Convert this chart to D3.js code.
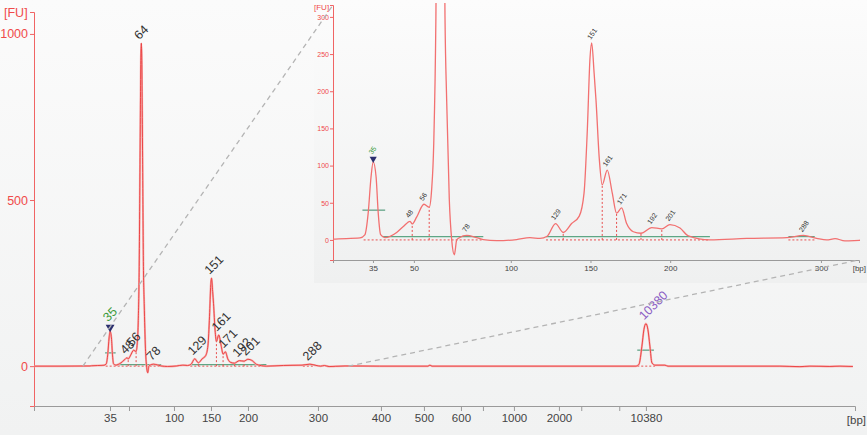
<!DOCTYPE html>
<html>
<head>
<meta charset="utf-8">
<style type="text/css">
body { margin: 0; background: #f4f5f5; }
svg { display: block; font-family: "Liberation Sans", Arial, sans-serif; }
.trace { fill: none; stroke-linejoin: round; }
.axisgray path, .axisgray line { stroke: #9a9a9a; }
.axisred path, .axisred line { stroke: #f06464; }
</style>
<script src="https://d3js.org/d3.v7.min.js"></script>
</head>
<body>
<script type="text/javascript">
var width = 867, height = 435;

// ladder: fragment size [bp] and migration time [s]
var ladderBp   = [35, 50, 100, 150, 200, 300, 400, 500, 600, 700, 1000, 2000, 3000, 7000, 10380];
var ladderTime = [44.84, 46.55, 50.6, 53.93, 57.26, 63.56, 69.23, 73.1, 76.43, 78.41, 81.2, 85.25, 87.26, 90.68, 93.08];
var mainLabelled  = [35, 100, 150, 200, 300, 400, 500, 600, 1000, 2000, 10380];
var insetLabelled = [35, 50, 100, 150, 200, 300];
var mainYTicks  = [0, 500, 1000];
var insetYTicks = [0, 50, 100, 150, 200, 250, 300];

// electropherogram trace: time [s], fluorescence [FU]
var traceT = [38.0, 40.34, 43.04, 43.16, 44.30, 44.50, 44.64, 44.76, 44.85, 44.97, 45.06, 45.16, 45.34,
  45.83, 46.11, 46.39, 46.48, 46.67, 46.97, 47.19, 47.29, 47.38, 47.47, 47.55, 47.62, 47.66, 47.70,
  47.77, 47.85, 47.92, 48.03, 48.13, 48.24, 48.34, 48.45, 48.76, 49.17, 49.45, 50.01, 50.84, 51.40,
  51.82, 52.12, 52.47, 52.79, 53.14, 53.46, 53.66, 53.80, 53.91, 53.98, 54.08, 54.16, 54.30, 54.42,
  54.63, 54.84, 55.02, 55.23, 55.44, 55.72, 56.04, 56.49, 56.91, 57.25, 57.67, 58.02, 58.92, 60.46,
  62.13, 62.83, 63.38, 63.80, 64.15, 64.56, 65.16, 66.0, 69.1, 73.46, 73.64, 73.82, 84.44, 92.18,
  92.45, 92.72, 92.90, 93.08, 93.26, 93.44, 93.62, 93.89, 94.79, 95.06, 97.94, 105.14, 106.94,
  107.84, 109.64, 110.54, 111.71];
var traceFU = [0, 0, 0.5, 1, 2.7, 6.7, 36, 85, 105, 85, 36, 7, 3,
  10, 18, 25, 21.5, 31, 48, 44, 67, 130, 300, 650, 930, 972, 930,
  650, 300, 188, 54, 0, -20, 0, 3, 6, 3, 0.5, -1, 0.5, 3,
  2, 5, 22, 10, 22, 32, 63, 150, 245, 265, 225, 188, 108, 74,
  94, 63, 36, 43, 22, 11, 9, 16.5, 15, 20.6, 16, 5.4, 0, 2,
  3, 6, 2.2, 0, 1.8, -1.3, -0.5, 0.5, 0, 0, 3, 0, 0, 0,
  5, 60, 110, 128, 110, 60, 10, 3, 3, 0, 0, 0, -1.5,
  0, -1, 0, -1];

// called peaks
var peakBp   = [35, 48, 56, 64, 78, 129, 151, 161, 171, 192, 201, 288, 10380];
var peakTime = [44.85, 46.39, 46.97, 47.66, 48.76, 52.47, 53.98, 54.63, 55.23, 56.49, 57.25, 62.83, 93.08];
var peakFU   = [105, 25, 48, 972, 6, 22, 265, 94, 43, 16.5, 20.6, 6, 128];

// peak boundaries (dotted drop lines)
var dropTime = [46.48, 47.19, 52.79, 54.42, 55.02, 56.04, 56.91];
var dropFU   = [21.5, 44, 10, 74, 36, 9, 15];

// smear regions (green baseline) and red dotted baselines
var smearStart = [45.25, 52.07, 62.2];
var smearEnd   = [49.45, 58.92, 63.3];
var smearFU = 4.5;
var baseStart = [44.45, 52.07, 62.2, 92.3];
var baseEnd   = [49.45, 58.92, 63.3, 93.9];

// marker half-height bars (lower / upper marker)
var markerStart = [44.4, 92.3];
var markerEnd   = [45.35, 93.8];
var markerFU    = [40, 48];

var zoomFrom = 42.4, zoomTo = 66.3;
var insetFrom = 43.17, insetTo = 65.15;

function bpLabel(list) {
	return function(t) {
		var bp = ladderBp[ladderTime.indexOf(t)];
		return list.indexOf(bp) >= 0 ? bp : "";
	};
}

var svg = d3.select("body").append("svg").attr("width", width).attr("height", height);
var defs = svg.append("defs");
var g1 = defs.append("linearGradient").attr("id", "bgmain").attr("x1", 0).attr("y1", 0).attr("x2", 0).attr("y2", 1);
g1.append("stop").attr("offset", "0%").attr("stop-color", "#fbfbfb");
g1.append("stop").attr("offset", "100%").attr("stop-color", "#f1f2f2");
var g2 = defs.append("linearGradient").attr("id", "bginset").attr("x1", 0).attr("y1", 0).attr("x2", 0).attr("y2", 1);
g2.append("stop").attr("offset", "0%").attr("stop-color", "#fcfcfc");
g2.append("stop").attr("offset", "100%").attr("stop-color", "#eff0f0");

svg.append("rect").attr("width", width).attr("height", height).attr("fill", "url(#bgmain)");

// ---------- main chart ----------
var x = d3.scaleLinear().domain([38, 111.9]).range([34, 855]);
var y = d3.scaleLinear().domain([-120, 1066]).range([406, 12]);

var main = svg.append("g");

main.append("g").attr("class", "axisgray")
	.attr("transform", "translate(0," + y(-120) + ")")
	.call(d3.axisBottom(x).tickValues(ladderTime).tickFormat(bpLabel(mainLabelled)).tickSizeOuter(0).tickSize(5).tickPadding(3))
	.call(function(a) { a.selectAll("text").attr("fill", "#444").style("font-size", "11.5px"); });

main.append("g").attr("class", "axisred")
	.attr("transform", "translate(" + x(38) + ",0)")
	.call(d3.axisLeft(y).tickValues(mainYTicks).tickFormat(d3.format("d")).tickSizeOuter(0).tickSize(4).tickPadding(2))
	.call(function(a) { a.selectAll("text").attr("fill", "#f04a4a").style("font-size", "12.5px"); });

main.append("text").attr("x", 4).attr("y", 17).attr("fill", "#f04a4a").style("font-size", "12.5px").text("[FU]");
main.append("text").attr("x", 866).attr("y", 424).attr("text-anchor", "end").attr("fill", "#444").style("font-size", "11.5px").text("[bp]");

function drawMarks(layer, xs, ys) {
	layer.selectAll(".base").data(baseStart).enter().append("line")
		.attr("x1", function(d) { return xs(d); })
		.attr("x2", function(d, i) { return xs(baseEnd[i]); })
		.attr("y1", ys(0)).attr("y2", ys(0))
		.attr("stroke", "#e85050").attr("stroke-width", 1).attr("stroke-dasharray", "2,2");
	layer.selectAll(".smear").data(smearStart).enter().append("line")
		.attr("x1", function(d) { return xs(d); })
		.attr("x2", function(d, i) { return xs(smearEnd[i]); })
		.attr("y1", ys(smearFU)).attr("y2", ys(smearFU))
		.attr("stroke", "#5fa685").attr("stroke-width", 1.2);
	layer.selectAll(".drop").data(dropTime).enter().append("line")
		.attr("x1", function(d) { return xs(d); })
		.attr("x2", function(d) { return xs(d); })
		.attr("y1", ys(0))
		.attr("y2", function(d, i) { return ys(dropFU[i]); })
		.attr("stroke", "#e85050").attr("stroke-width", 1).attr("stroke-dasharray", "2,2");
	layer.selectAll(".marker").data(markerStart).enter().append("line")
		.attr("x1", function(d) { return xs(d); })
		.attr("x2", function(d, i) { return xs(markerEnd[i]); })
		.attr("y1", function(d, i) { return ys(markerFU[i]); })
		.attr("y2", function(d, i) { return ys(markerFU[i]); })
		.attr("stroke", "#6aa88e").attr("stroke-width", 1.6).attr("opacity", 0.85);
}

function peakColor(bp) {
	if (bp === 35) return "#3a9a3a";
	if (bp === 10380) return "#8a5cc4";
	return "#333";
}

var line = function(xs, ys) {
	return d3.line()
		.x(function(d) { return xs(d); })
		.y(function(d, i) { return ys(traceFU[i]); })
		.curve(d3.curveMonotoneX);
};

drawMarks(main, x, y);

main.append("path").datum(traceT).attr("class", "trace")
	.attr("stroke", "#f7b0b0").attr("stroke-width", 2).attr("d", line(x, y));
main.append("path").datum(traceT).attr("class", "trace")
	.attr("stroke", "#ea3a3a").attr("stroke-width", 0.9).attr("d", line(x, y));

// lower marker triangle
main.append("path")
	.attr("d", d3.symbol().type(d3.symbolTriangle).size(34))
	.attr("transform", "translate(" + x(peakTime[0]) + "," + (y(peakFU[0]) - 4) + ") rotate(180)")
	.attr("fill", "#2b2f6e");

main.selectAll(".plabel").data(peakBp).enter().append("text")
	.attr("transform", function(d, i) {
		var off = d === 35 ? 9 : 3;
		return "translate(" + (x(peakTime[i]) - 2) + "," + (y(peakFU[i]) - off) + ") rotate(-45)";
	})
	.attr("fill", function(d) { return peakColor(d); })
	.style("font-size", "12.5px")
	.text(function(d) { return d; });

// ---------- inset ----------
var xi = d3.scaleLinear().domain([insetFrom, insetTo]).range([333, 859]);
var yi = d3.scaleLinear().domain([-27, 316]).range([260, 5]);

var inset = svg.append("g");
inset.append("rect").attr("x", 314).attr("y", 0).attr("width", width - 314).attr("height", 283)
	.attr("fill", "url(#bginset)");

defs.append("clipPath").attr("id", "clipin").append("rect")
	.attr("x", 333).attr("y", 3).attr("width", 527).attr("height", 257);

inset.append("g").attr("class", "axisgray")
	.attr("transform", "translate(0," + yi(-27) + ")")
	.call(d3.axisBottom(xi).tickValues(ladderTime.filter(function(t) { return t > insetFrom && t < insetTo; }))
		.tickFormat(bpLabel(insetLabelled)).tickSizeOuter(0).tickSize(3).tickPadding(2))
	.call(function(a) { a.selectAll("text").attr("fill", "#444").style("font-size", "8px"); });

inset.append("g").attr("class", "axisred")
	.attr("transform", "translate(" + xi(insetFrom) + ",0)")
	.call(d3.axisLeft(yi).tickValues(insetYTicks).tickSizeOuter(0).tickSize(3).tickPadding(1))
	.call(function(a) { a.selectAll("text").attr("fill", "#f04a4a").style("font-size", "7px"); });

inset.append("text").attr("x", 314).attr("y", 10).attr("fill", "#f04a4a").style("font-size", "8px").text("[FU]");
inset.append("text").attr("x", 866).attr("y", 271).attr("text-anchor", "end").attr("fill", "#444").style("font-size", "8px").text("[bp]");

var inner = inset.append("g").attr("clip-path", "url(#clipin)");
drawMarks(inner, xi, yi);
inner.append("path").datum(traceT).attr("class", "trace")
	.attr("stroke", "#f27070").attr("stroke-width", 1.3).attr("d", line(xi, yi));

inner.append("path")
	.attr("d", d3.symbol().type(d3.symbolTriangle).size(22))
	.attr("transform", "translate(" + xi(peakTime[0]) + "," + (yi(peakFU[0]) - 3) + ") rotate(180)")
	.attr("fill", "#2b2f6e");

var insetPeaks = peakBp.filter(function(d, i) {
	return peakTime[i] > insetFrom && peakTime[i] < insetTo && peakFU[i] < 300;
});
inset.selectAll(".plabel").data(insetPeaks).enter().append("text")
	.attr("transform", function(d) {
		var i = peakBp.indexOf(d);
		var off = d === 35 ? 7 : 3;
		return "translate(" + (xi(peakTime[i]) - 1) + "," + (yi(peakFU[i]) - off) + ") rotate(-55)";
	})
	.attr("fill", function(d) { return peakColor(d); })
	.style("font-size", "7px")
	.text(function(d) { return d; });

// ---------- zoom connectors ----------
svg.append("line")
	.attr("x1", x(zoomFrom)).attr("y1", y(0))
	.attr("x2", xi.range()[0]).attr("y2", yi.range()[1])
	.attr("stroke", "#b4b4b4").attr("stroke-width", 1.3).attr("stroke-dasharray", "5,4");
svg.append("line")
	.attr("x1", x(zoomTo)).attr("y1", y(0))
	.attr("x2", xi.range()[1]).attr("y2", yi.range()[0])
	.attr("stroke", "#b4b4b4").attr("stroke-width", 1.3).attr("stroke-dasharray", "5,4");
</script>
</body>
</html>
